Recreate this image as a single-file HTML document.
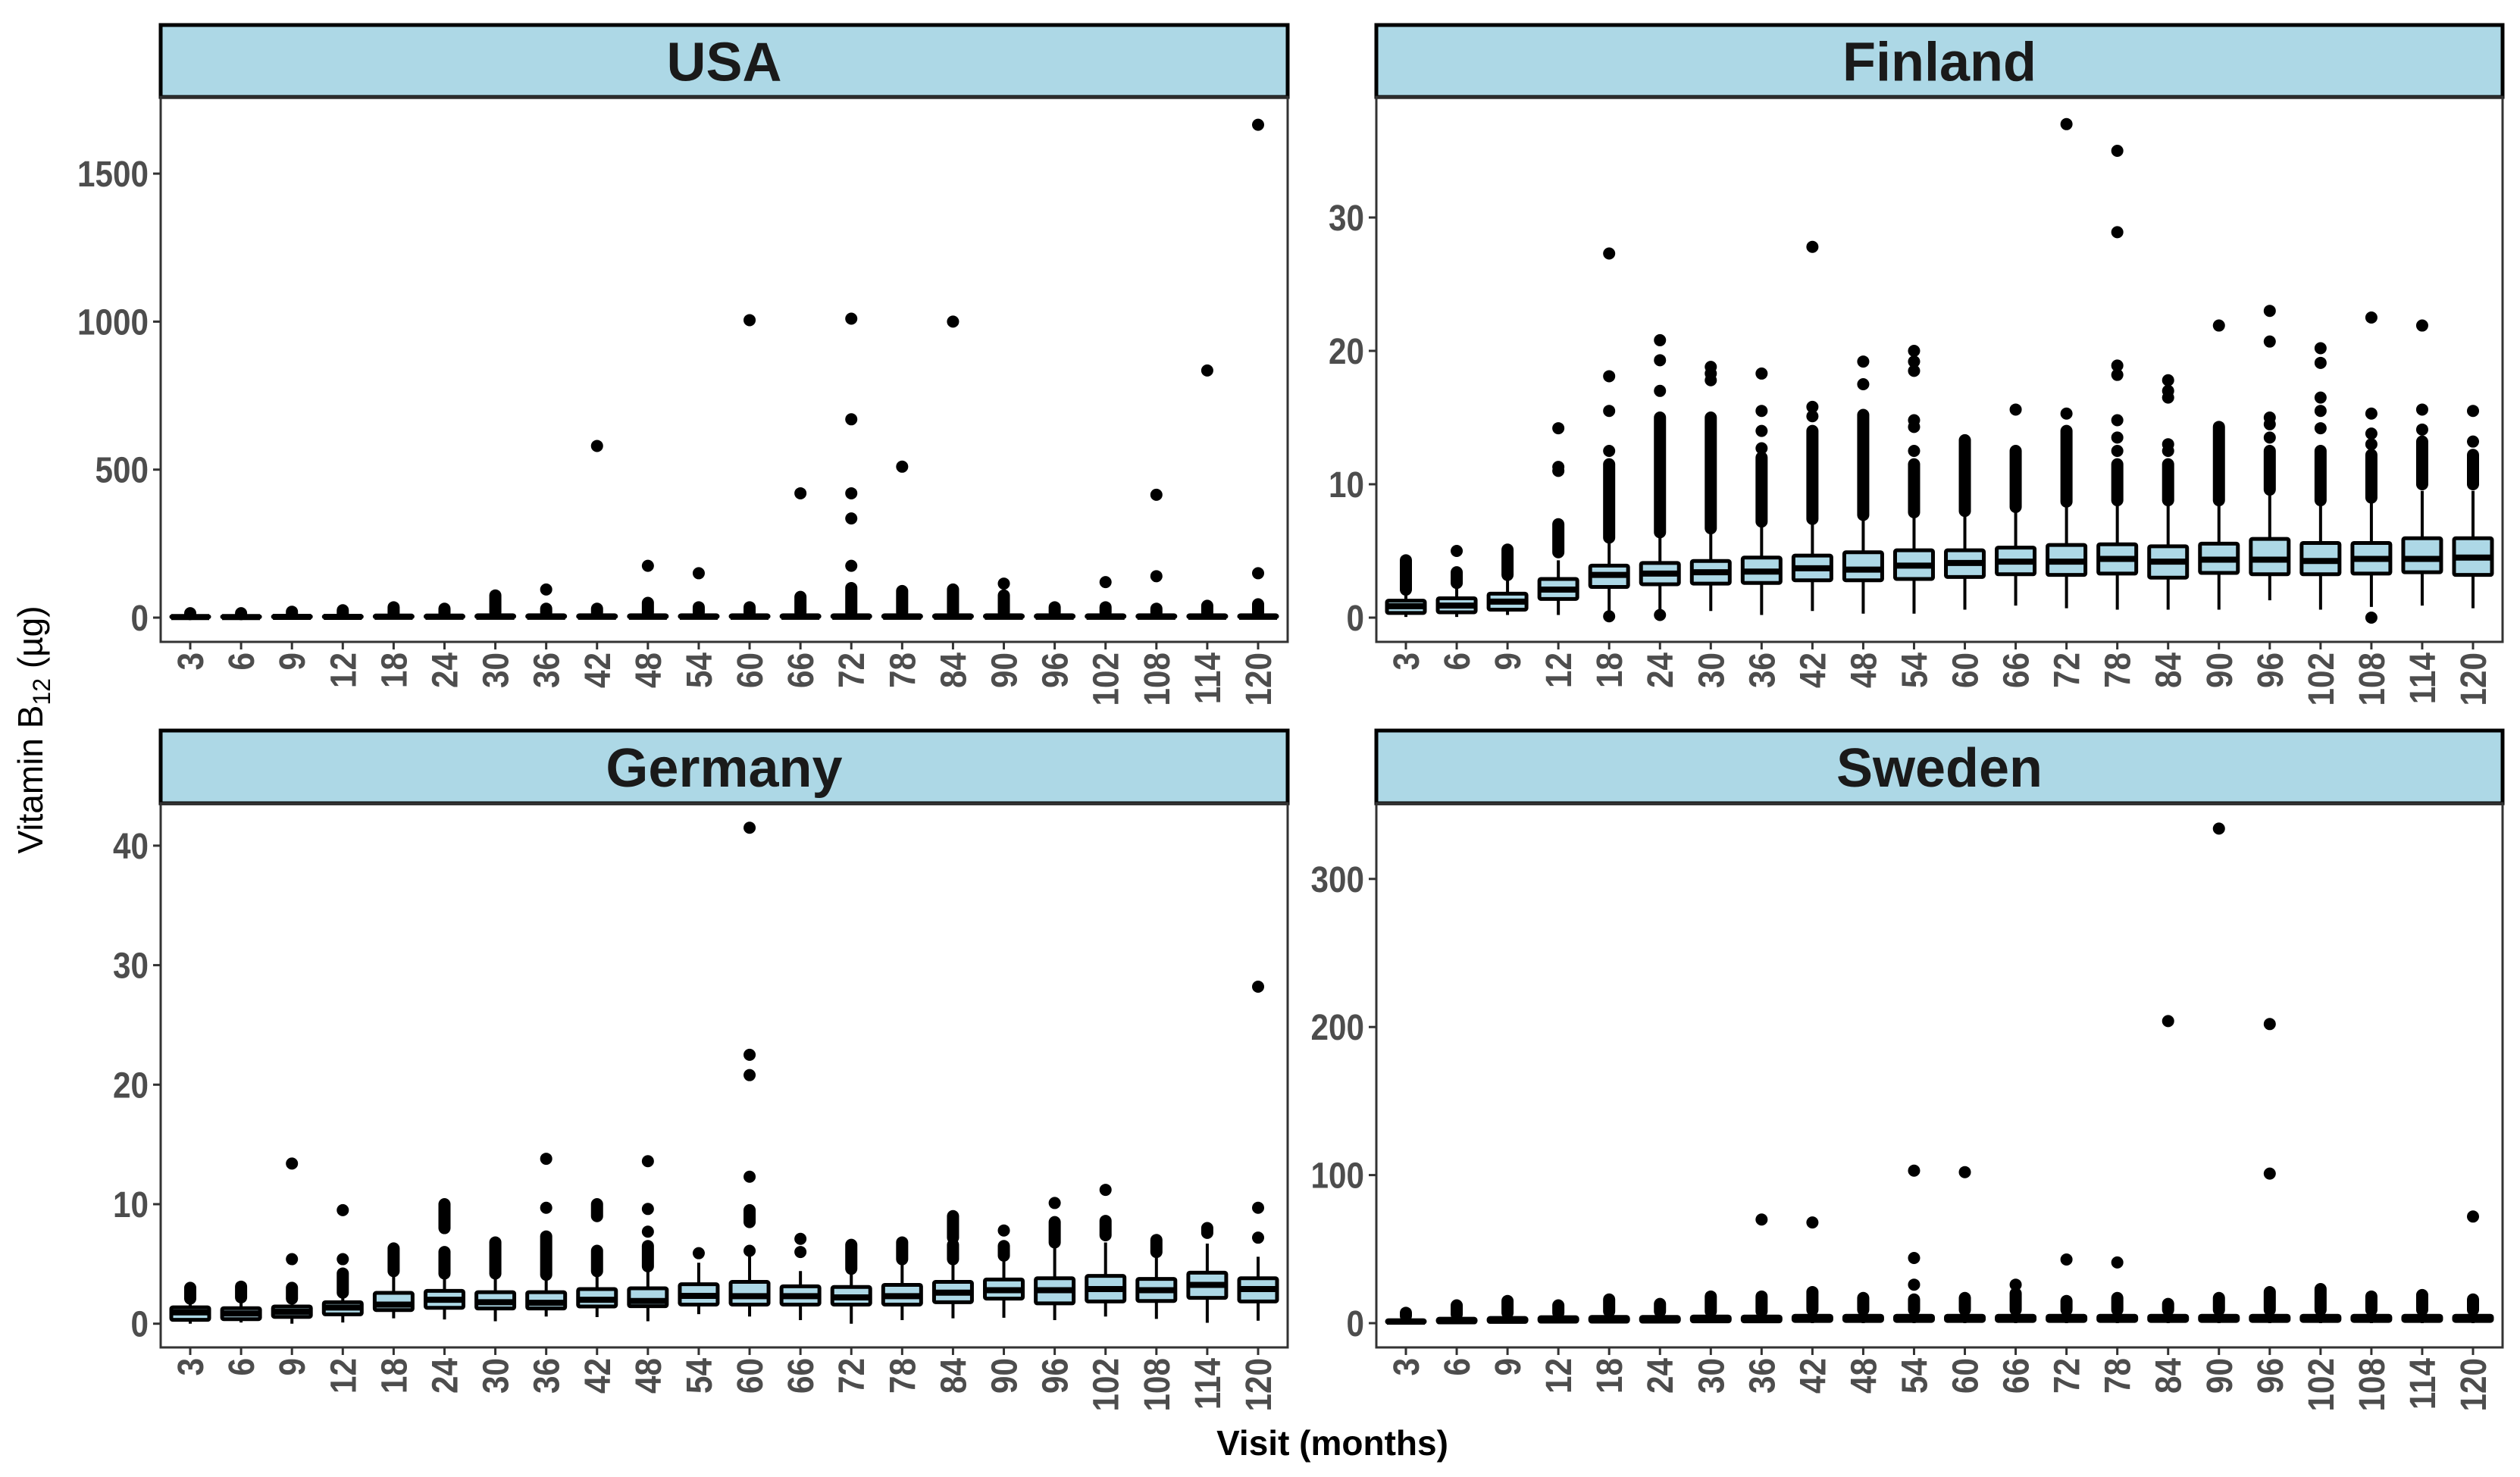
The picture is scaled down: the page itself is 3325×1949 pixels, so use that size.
<!DOCTYPE html>
<html><head><meta charset="utf-8">
<style>
html,body{margin:0;padding:0;background:#fff;}
svg{display:block;}
text{font-family:"Liberation Sans",Arial,sans-serif;}
</style></head>
<body>
<svg id="chart" width="3325" height="1949" viewBox="0 0 3325 1949" xmlns="http://www.w3.org/2000/svg">
<rect x="0" y="0" width="3325" height="1949" fill="#fff"/>
<text transform="translate(56,963) rotate(-90)" text-anchor="middle" font-size="46" fill="#000">Vitamin B<tspan font-size="32" dy="10">12</tspan><tspan dy="-10"> (µg)</tspan></text>
<text x="1758" y="1920" text-anchor="middle" font-size="46" font-weight="bold" fill="#000">Visit (months)</text>
</svg>
<script>
const categories = ["3","6","9","12","18","24","30","36","42","48","54","60","66","72","78","84","90","96","102","108","114","120"];

// USA
const usaQ1 = [0.5,0.5,0.5,0.5,0.8,0.8,1,1,1,1,1,1,1,1,1,1,1,1,1,1,1,1];
const usaMed = [2,2,2.5,2.5,3,3,3,3,3,3,3,3,3,3,3,3,3,3,3,3,3,3];
const usaQ3 = [5,5,6,6,7,7,8,8,8,8,8,8,8,8,8,8,8,8,8,8,8,8];
const usaLo = [0,0,0,0,0,0,0,0,0,0,0,0,0,0,0,0,0,0,0,0,0,0];
const usaHi = [10,10,12,12,14,14,16,16,16,16,16,16,16,16,16,16,16,16,16,16,16,16];
const usaOut = [[[12,15]],[[12,15]],[[14,20]],[[14,25]],[[16,35]],[[16,30]],[[18,75]],[[18,30],95],[[18,30],580],[[18,50],175],[[18,35],150],[[18,35],1005],[[18,70],420],[[18,100],175,335,420,670,1010],[[18,90],510],[[18,95],1000],[[18,75],115],[[18,35]],[[18,35],120],[[18,30],140,415],[[18,40],835],[[18,45],150,1665]];
const usaTicks = [0,500,1000,1500];

// Finland
const finQ1 = [0.35,0.4,0.6,1.4,2.3,2.5,2.55,2.6,2.8,2.8,2.9,3.05,3.25,3.2,3.3,3.0,3.35,3.25,3.25,3.3,3.4,3.2];
const finMed = [0.85,0.9,1.2,2.1,3.2,3.3,3.4,3.45,3.7,3.6,3.9,4.1,4.2,4.2,4.4,4.2,4.35,4.35,4.25,4.4,4.4,4.5];
const finQ3 = [1.27,1.45,1.8,2.9,3.9,4.1,4.25,4.5,4.65,4.9,5.05,5.05,5.25,5.45,5.5,5.35,5.55,5.9,5.6,5.6,5.95,5.95];
const finLo = [0.05,0.05,0.2,0.2,0.1,0.2,0.5,0.2,0.5,0.3,0.3,0.6,0.9,0.7,0.6,0.6,0.6,1.3,0.6,0.8,0.9,0.7];
const finHi = [1.9,2.5,2.9,4.3,5.8,6.2,6.5,7.0,7.2,7.5,7.7,7.8,8.2,8.5,8.6,8.6,8.5,9.4,8.5,8.6,9.5,9.5];
const finOut = [[[2.1,4.3]],[[2.6,3.4],5.0],[[3.2,5.1]],[[4.9,7.0],11.0,11.3,14.2],[[6.0,11.5],0.1,12.5,15.5,18.1,27.3],[[6.4,15.0],0.2,17.0,19.3,20.8],[[6.7,15.0],17.8,18.3,18.8],[[7.2,12.0],12.7,14.0,15.5,18.3],[[7.4,14.0],15.1,15.8,27.8],[[7.7,15.2],17.5,19.2],[[7.9,11.5],12.5,14.3,14.8,18.5,19.2,20.0],[[8.0,13.3]],[[8.3,12.5],15.6],[[8.7,14.0],15.3,37.0],[[8.8,11.5],12.5,13.5,14.8,18.2,18.9,28.9,35.0],[[8.8,11.5],12.5,13.0,16.5,17.0,17.8],[[8.8,14.3],21.9],[[9.6,12.5],13.5,14.5,15.0,20.7,23.0],[[8.8,12.5],14.2,15.5,16.5,19.1,20.2],[[9.0,12.2],0.0,13.0,13.8,15.3,22.5],[[10.0,13.2],14.1,15.6,21.9],[[10.0,12.2],13.2,15.5]];
const finTicks = [0,10,20,30];

// Germany
const gerQ1 = [0.32,0.38,0.57,0.78,1.14,1.33,1.27,1.27,1.44,1.46,1.6,1.6,1.6,1.6,1.6,1.8,2.1,1.7,1.86,1.9,2.16,1.86];
const gerMed = [0.95,0.85,1.0,1.35,1.6,2.0,1.8,1.75,2.0,1.9,2.33,2.3,2.3,2.2,2.3,2.6,2.8,2.8,2.9,2.8,3.25,2.9];
const gerQ3 = [1.37,1.3,1.44,1.8,2.58,2.75,2.64,2.64,2.9,2.96,3.3,3.5,3.13,3.07,3.25,3.5,3.7,3.8,4.0,3.75,4.27,3.8];
const gerLo = [0,0.1,0,0.1,0.45,0.35,0.2,0.6,0.55,0.2,0.8,0.6,0.3,0,0.3,0.45,0.5,0.3,0.6,0.4,0.08,0.25];
const gerHi = [1.9,1.9,1.6,2.4,4.0,4.0,4.0,3.9,4.3,4.5,5.1,6.0,4.4,4.4,5.0,5.2,5.3,6.6,6.8,5.8,6.7,5.6];
const gerOut = [[[2.1,3.0]],[[2.2,3.1]],[[2.1,3.0],5.4,13.4],[[2.6,4.2],5.4,9.5],[[4.4,6.3]],[[4.2,6.0],[8.0,10.0]],[[4.2,6.8]],[[4.1,7.3],9.7,13.8],[[4.4,6.1],[9.0,10.0]],[[4.8,6.5],7.7,9.6,13.6],[5.9],[6.1,[8.5,9.5],12.3,20.8,22.5,41.5],[6.0,7.1],[[4.6,6.6]],[[5.4,6.8]],[[5.4,6.6],[7.2,9.0]],[[5.7,6.5],7.8],[[6.8,8.5],10.1],[[7.4,8.6],11.2],[[6.0,7.0]],[[7.6,8.0]],[7.2,9.7,28.2]];
const gerTicks = [0,10,20,30,40];

// Sweden
const sweQ1 = [0.3,0.5,0.8,1,1,1,1.2,1.2,1.5,1.5,1.5,1.5,1.5,1.5,1.5,1.5,1.5,1.5,1.5,1.5,1.5,1.5];
const sweMed = [1,1.5,2,2.3,2.5,2.5,2.7,2.8,3,3,3,3,3,3,3,3,3,3,3,3,3,3];
const sweQ3 = [2,3,3.5,4,4.2,4.2,4.5,4.5,5,5,5,5,5,5,5,5,5,5,5,5,5,5];
const sweLo = [0,0,0,0,0,0,0,0,0,0,0,0,0,0,0,0,0,0,0,0,0,0];
const sweHi = [4,5,6,6,7,7,7,7,8,8,8,8,8,8,8,8,8,8,8,8,8,8];
const sweOut = [[[5,7]],[[6,12]],[[7,15]],[[7,12]],[[8,16]],[[8,13]],[[8,18]],[[8,18],70],[[9,21],68],[[9,17]],[[9,16],26,44,103],[[9,17],102],[[9,20],26],[[9,15],43],[[9,17],41],[[9,13],204],[[9,17],334],[[9,21],101,202],[[9,23]],[[9,18]],[[9,19]],[[9,16],72]];
const sweTicks = [0,100,200,300];

const NS = "http://www.w3.org/2000/svg";
const svg = document.getElementById("chart");
function mk(tag, attrs, parent) {
  const e = document.createElementNS(NS, tag);
  for (const k in attrs) e.setAttribute(k, attrs[k]);
  (parent || svg).appendChild(e);
  return e;
}

const panels = [
  {name:"USA", key:"usa", left:212, right:1699, stripTop:33, top:128, bottom:847, y0:815, ppu:195.3/500, q1:usaQ1, med:usaMed, q3:usaQ3, lo:usaLo, hi:usaHi, out:usaOut, ticks:usaTicks},
  {name:"Finland", key:"finland", left:1816, right:3302, stripTop:33, top:128, bottom:847, y0:815, ppu:17.6, q1:finQ1, med:finMed, q3:finQ3, lo:finLo, hi:finHi, out:finOut, ticks:finTicks},
  {name:"Germany", key:"germany", left:212, right:1699, stripTop:964, top:1060, bottom:1778, y0:1746.7, ppu:15.77, q1:gerQ1, med:gerMed, q3:gerQ3, lo:gerLo, hi:gerHi, out:gerOut, ticks:gerTicks},
  {name:"Sweden", key:"sweden", left:1816, right:3302, stripTop:964, top:1060, bottom:1778, y0:1746, ppu:1.954, q1:sweQ1, med:sweMed, q3:sweQ3, lo:sweLo, hi:sweHi, out:sweOut, ticks:sweTicks}
];

panels.forEach(p => {
  const g = mk("g", {});
  
  
  const yS = v => p.y0 - v * p.ppu;
  const step = (p.right - p.left - 78) / (categories.length - 1);
  const xS = i => p.left + 39 + i * step;

  const strip = mk("rect", {x:p.left, y:p.stripTop, width:p.right-p.left, height:p.top-p.stripTop, fill:"#add8e6", stroke:"#000", "stroke-width":5}, g);
  
  
  const st = mk("text", {x:(p.left+p.right)/2, y:(p.stripTop+p.top)/2+26, "text-anchor":"middle", "font-size":72, "font-weight":"bold", fill:"#1a1a1a"}, g);
  st.textContent = p.name;
  
  

  const bd = mk("rect", {x:p.left, y:p.top, width:p.right-p.left, height:p.bottom-p.top, fill:"none", stroke:"#333", "stroke-width":3}, g);
  
  

  p.ticks.forEach(t => {
    const y = yS(t);
    const tk = mk("line", {x1:p.left-10, x2:p.left, y1:y, y2:y, stroke:"#333", "stroke-width":3}, g);
    
    
    const tl = mk("text", {transform:"translate(" + (p.left-16) + "," + (y+17) + ") scale(0.88,1)", "text-anchor":"end", "font-size":48, "font-weight":"bold", fill:"#4d4d4d"}, g);
    tl.textContent = String(t);
    
    
  });

  categories.forEach((c, i) => {
    const x = xS(i);
    const tk = mk("line", {x1:x, x2:x, y1:p.bottom, y2:p.bottom+10, stroke:"#333", "stroke-width":3}, g);
    
    
    const tl = mk("text", {transform:"translate(" + (x+17) + "," + (p.bottom+14) + ") rotate(-90) scale(0.88,1)", "text-anchor":"end", "font-size":48, "font-weight":"bold", fill:"#4d4d4d"}, g);
    tl.textContent = c;
    
    
  });

  categories.forEach((c, i) => {
    const x = xS(i);
    const bg = mk("g", {}, g);
    
    
    const w = mk("line", {x1:x, x2:x, y1:yS(p.lo[i]), y2:yS(p.hi[i]), stroke:"#000", "stroke-width":4}, bg);
    
    
    const yq3 = yS(p.q3[i]), yq1 = yS(p.q1[i]);
    const r = mk("rect", {x:x-25, y:yq3, width:50, height:Math.max(yq1-yq3,0.5), fill:"#add8e6", stroke:"#000", "stroke-width":5, rx:2}, bg);
    
    
    const m = mk("line", {x1:x-25, x2:x+25, y1:yS(p.med[i]), y2:yS(p.med[i]), stroke:"#000", "stroke-width":8}, bg);
    
    
    p.out[i].forEach(o => {
      if (Array.isArray(o)) {
        const run = mk("line", {x1:x, x2:x, y1:yS(o[0]), y2:yS(o[1]), stroke:"#000", "stroke-width":16, "stroke-linecap":"round"}, bg);
        
        
      } else {
        const d = mk("ellipse", {cx:x, cy:yS(o), rx:8, ry:8, fill:"#000"}, bg);
        
        
      }
    });
  });
});
</script>
</body></html>
